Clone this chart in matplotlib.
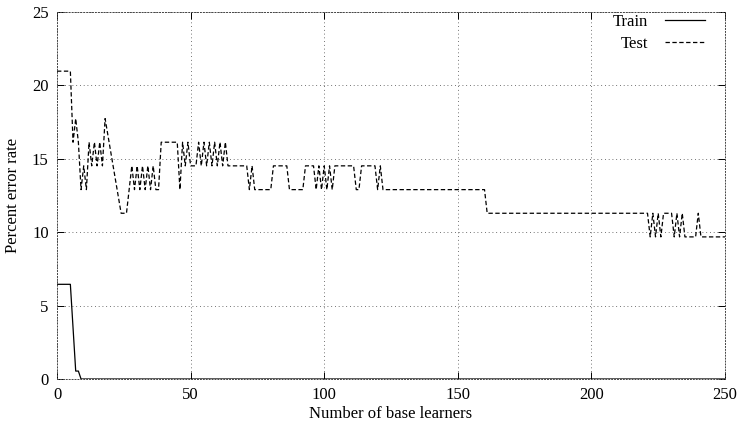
import matplotlib
matplotlib.use("Agg")
import matplotlib.pyplot as plt

# error levels (test set steps of 1/62)
a, b, c, d, e, f, g = 20.97, 17.74, 16.13, 14.52, 12.90, 11.29, 9.68

train_x = [0, 5, 7, 8, 9, 250]
train_y = [6.45, 6.45, 0.54, 0.54, 0, 0]

test_x = [0, 5, 6, 7, 8, 9, 10, 11, 12, 13, 14, 15, 16, 17, 18,
          24, 26, 27, 28, 29, 30, 31, 32, 33, 34, 35, 36, 37, 38, 39,
          45, 46, 47, 48, 49, 50, 52, 53, 54, 55, 56, 57, 58, 59, 60, 61, 62, 63, 64,
          71, 72, 73, 74, 80, 81, 86, 87, 88, 92, 93, 96,
          97, 98, 99, 100, 101, 102, 103, 104, 111, 112, 113, 114, 119,
          120, 121, 122, 160, 161, 221,
          222, 223, 224, 225, 226, 227, 230, 231, 232, 233, 234, 235, 239, 240, 241, 250]
test_y = [a, a, c, b, c, e, d, e, c, d, c, d, c, d, b,
          f, f, e, d, e, d, e, d, e, d, e, d, e, e, c,
          c, e, c, d, c, d, d, c, d, c, d, c, d, c, d, c, d, c, d,
          d, e, d, e, e, d, d, e, e, e, d, d,
          e, d, e, d, e, d, e, d, d, e, e, d, d,
          e, d, e, e, f, f,
          g, f, g, f, g, f, f, g, f, g, f, g, g, f, g, g]

plt.rcParams['font.family'] = ['Liberation Serif', 'DejaVu Serif']
plt.rcParams['font.size'] = 12

fig = plt.figure(figsize=(7.41, 4.32), dpi=100)
ax = fig.add_axes([57/741, 1 - 379/432, (725-57)/741, (379-12)/432])

ax.plot(train_x, train_y, color='black', lw=0.9, label='Train')
ax.plot(test_x, test_y, color='black', lw=0.9, linestyle=(0, (3.5, 2)), label='Test')

ax.set_xlim(0, 250)
ax.set_ylim(0, 25)
ax.set_xticks(range(0, 251, 50))
ax.set_yticks(range(0, 26, 5))
ax.grid(True, color='#444444', linestyle=(0, (1, 3.5)), linewidth=0.6)
for s in ax.spines.values():
    s.set_linestyle((0, (1, 2)))
    s.set_linewidth(0.7)
    s.set_color('#444444')
ax.tick_params(direction='in', length=5, width=0.7, top=True, right=True, pad=6)

ax.set_xlabel('Number of base learners', labelpad=2)
ax.set_ylabel('Percent error rate', labelpad=8)

ax.legend(loc='upper right', bbox_to_anchor=(0.98, 1.013), frameon=False,
          markerfirst=False, handlelength=2.4, handletextpad=1.0,
          borderaxespad=0.0, labelspacing=0.35)

fig.savefig('out.png', dpi=100)
